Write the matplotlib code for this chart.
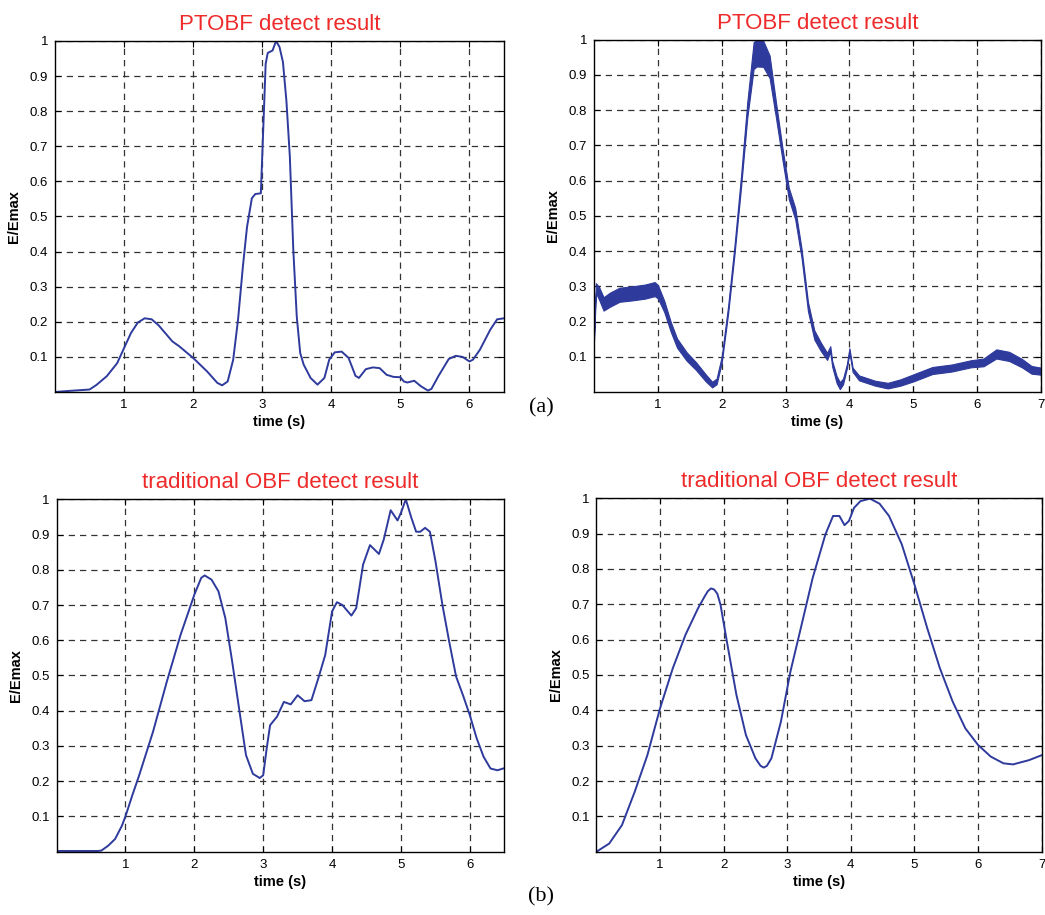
import numpy as np
import matplotlib
matplotlib.use("Agg")
import matplotlib.pyplot as plt

plt.rcParams['font.family'] = ['Liberation Sans', 'DejaVu Sans']

# (a) left: PTOBF detect result
t_a1 = [0.0, 0.2, 0.5, 0.6, 0.75, 0.9, 1.0, 1.1, 1.2, 1.3, 1.4, 1.5, 1.7, 1.8, 2.0,
        2.2, 2.35, 2.42, 2.5, 2.58, 2.65, 2.72, 2.78, 2.85, 2.9, 2.98, 3.0, 3.05,
        3.08, 3.15, 3.2, 3.25, 3.3, 3.35, 3.4, 3.45, 3.5, 3.55, 3.6, 3.7, 3.8, 3.9,
        3.97, 4.05, 4.15, 4.25, 4.35, 4.4, 4.5, 4.6, 4.7, 4.8, 4.9, 5.0, 5.05, 5.1,
        5.2, 5.3, 5.4, 5.45, 5.55, 5.7, 5.8, 5.9, 6.0, 6.05, 6.15, 6.3, 6.4, 6.5]
e_a1 = [0.0, 0.003, 0.007, 0.02, 0.045, 0.082, 0.125, 0.168, 0.198, 0.21, 0.207, 0.19,
        0.144, 0.13, 0.097, 0.059, 0.026, 0.019, 0.03, 0.092, 0.206, 0.357, 0.47,
        0.552, 0.564, 0.566, 0.67, 0.935, 0.966, 0.973, 1.0, 0.983, 0.94, 0.83, 0.67,
        0.405, 0.215, 0.111, 0.078, 0.04, 0.021, 0.04, 0.092, 0.113, 0.115, 0.097,
        0.046, 0.04, 0.065, 0.07, 0.068, 0.049, 0.043, 0.042, 0.03, 0.027, 0.032,
        0.016, 0.004, 0.009, 0.045, 0.094, 0.103, 0.1, 0.087, 0.092, 0.12, 0.177,
        0.207, 0.21]

# (a) right: PTOBF detect result (noisy band: centre and half width)
t_a2 = [0.0, 0.03, 0.08, 0.15, 0.25, 0.4, 0.6, 0.8, 0.95, 1.0, 1.1, 1.2, 1.3, 1.45,
        1.6, 1.75, 1.85, 1.92, 2.0, 2.1, 2.2, 2.3, 2.4, 2.5, 2.55, 2.65, 2.75, 2.85,
        2.95, 3.05, 3.15, 3.25, 3.35, 3.45, 3.55, 3.65, 3.7, 3.73, 3.8, 3.85, 3.9,
        3.96, 4.0, 4.05, 4.15, 4.4, 4.6, 4.8, 5.0, 5.3, 5.6, 5.9, 6.1, 6.3, 6.5,
        6.7, 6.85, 7.0]
e_a2 = [0.15, 0.295, 0.28, 0.25, 0.262, 0.276, 0.28, 0.285, 0.292, 0.285, 0.243,
        0.186, 0.139, 0.101, 0.073, 0.04, 0.021, 0.03, 0.092, 0.233, 0.403, 0.592,
        0.8, 0.955, 0.962, 0.96, 0.923, 0.8, 0.677, 0.564, 0.507, 0.394, 0.243,
        0.162, 0.129, 0.101, 0.122, 0.08, 0.035, 0.018, 0.03, 0.073, 0.118, 0.063,
        0.04, 0.025, 0.018, 0.027, 0.04, 0.061, 0.068, 0.08, 0.084, 0.108, 0.101,
        0.082, 0.063, 0.059]
w_a2 = [0.005, 0.014, 0.018, 0.019, 0.02, 0.02, 0.02, 0.02, 0.02, 0.019, 0.016,
        0.014, 0.013, 0.012, 0.011, 0.01, 0.008, 0.008, 0.009, 0.011, 0.013, 0.016,
        0.022, 0.038, 0.038, 0.037, 0.032, 0.022, 0.017, 0.016, 0.016, 0.013, 0.013,
        0.013, 0.012, 0.01, 0.008, 0.008, 0.01, 0.01, 0.008, 0.006, 0.006, 0.006,
        0.007, 0.007, 0.008, 0.009, 0.01, 0.01, 0.01, 0.01, 0.011, 0.013, 0.013,
        0.012, 0.011, 0.01]

# (b) left: traditional OBF detect result
t_b1 = [0.0, 0.6, 0.65, 0.75, 0.85, 0.95, 1.0, 1.1, 1.2, 1.4, 1.6, 1.8, 2.0, 2.1,
        2.15, 2.25, 2.35, 2.45, 2.55, 2.65, 2.75, 2.85, 2.95, 3.0, 3.05, 3.1, 3.2,
        3.3, 3.4, 3.5, 3.6, 3.7, 3.8, 3.9, 4.0, 4.07, 4.15, 4.28, 4.35, 4.45, 4.55,
        4.68, 4.75, 4.85, 4.95, 5.0, 5.07, 5.15, 5.22, 5.28, 5.35, 5.42, 5.5, 5.6,
        5.7, 5.8, 5.9, 6.0, 6.1, 6.2, 6.3, 6.4, 6.5]
e_b1 = [0.002, 0.002, 0.003, 0.017, 0.036, 0.074, 0.1, 0.16, 0.217, 0.34, 0.482,
        0.615, 0.729, 0.777, 0.784, 0.772, 0.739, 0.663, 0.539, 0.406, 0.274, 0.221,
        0.209, 0.217, 0.292, 0.359, 0.383, 0.425, 0.418, 0.444, 0.427, 0.43, 0.492,
        0.558, 0.682, 0.708, 0.7, 0.67, 0.691, 0.815, 0.87, 0.845, 0.886, 0.969,
        0.94, 0.962, 1.0, 0.948, 0.908, 0.908, 0.919, 0.908, 0.825, 0.702, 0.596,
        0.497, 0.444, 0.387, 0.321, 0.269, 0.236, 0.231, 0.237]

# (b) right: traditional OBF detect result
t_b2 = [0.0, 0.2, 0.4, 0.6, 0.8, 1.0, 1.2, 1.4, 1.6, 1.7, 1.75, 1.8, 1.85, 1.9,
        1.95, 2.05, 2.2, 2.35, 2.5, 2.58, 2.63, 2.68, 2.75, 2.9, 3.05, 3.2, 3.4, 3.6,
        3.72, 3.82, 3.9, 3.97, 4.05, 4.15, 4.3, 4.45, 4.6, 4.8, 5.0, 5.2, 5.4, 5.6,
        5.8, 6.0, 6.2, 6.4, 6.55, 6.8, 7.0]
e_b2 = [0.0, 0.023, 0.075, 0.169, 0.273, 0.406, 0.519, 0.614, 0.69, 0.722, 0.737,
        0.745, 0.742, 0.73, 0.699, 0.595, 0.444, 0.33, 0.264, 0.243, 0.238, 0.243,
        0.264, 0.368, 0.51, 0.623, 0.775, 0.898, 0.95, 0.95, 0.924, 0.936, 0.973,
        0.992, 0.999, 0.985, 0.95, 0.87, 0.756, 0.633, 0.519, 0.425, 0.349, 0.302,
        0.269, 0.25, 0.247, 0.259, 0.273]

line_color = '#2e3a9c'
title_color = '#ee2a2a'
y_ticks = [0.1, 0.2, 0.3, 0.4, 0.5, 0.6, 0.7, 0.8, 0.9, 1.0]
y_labels = ['0.1', '0.2', '0.3', '0.4', '0.5', '0.6', '0.7', '0.8', '0.9', '1']


def style_axes(ax, xmax, xticks, title):
    ax.set_xlim(0, xmax)
    ax.set_ylim(0, 1)
    ax.set_xticks(xticks)
    ax.set_xticklabels([str(v) for v in xticks])
    ax.set_yticks(y_ticks)
    ax.set_yticklabels(y_labels)
    ax.tick_params(direction='in', length=4, width=0.8, labelsize=9.5,
                   colors='black', pad=5, top=True, right=True)
    for sp in ax.spines.values():
        sp.set_linewidth(1.0)
        sp.set_color('black')
    ax.grid(True, color='#333333', linestyle=(0, (5, 4)), linewidth=0.9)
    ax.set_axisbelow(True)
    ax.set_title(title, color=title_color, fontsize=16, pad=8)
    ax.set_xlabel('time (s)', fontsize=10.5, fontweight='bold', labelpad=3)
    ax.set_ylabel('E/Emax', fontsize=10.5, fontweight='bold', labelpad=6)


fig = plt.figure(figsize=(10.45, 9.15), dpi=100)

ax1 = fig.add_axes([0.0526, 0.5716, 0.4297, 0.3836])
ax1.plot(t_a1, e_a1, color=line_color, linewidth=1.4)
style_axes(ax1, 6.5, [1, 2, 3, 4, 5, 6], 'PTOBF detect result')

ax2 = fig.add_axes([0.5684, 0.5716, 0.4278, 0.3850])
lo = np.array(e_a2) - np.array(w_a2)
hi = np.array(e_a2) + np.array(w_a2)
ax2.fill_between(t_a2, lo, hi, color=line_color, linewidth=0.8, edgecolor=line_color)
style_axes(ax2, 7, [1, 2, 3, 4, 5, 6, 7], 'PTOBF detect result')

ax3 = fig.add_axes([0.0541, 0.0692, 0.4285, 0.3851])
ax3.plot(t_b1, e_b1, color=line_color, linewidth=1.4)
style_axes(ax3, 6.5, [1, 2, 3, 4, 5, 6], 'traditional OBF detect result')

ax4 = fig.add_axes([0.5708, 0.0692, 0.4260, 0.3862])
ax4.plot(t_b2, e_b2, color=line_color, linewidth=1.4)
style_axes(ax4, 7, [1, 2, 3, 4, 5, 6, 7], 'traditional OBF detect result')

fig.text(541 / 1045, 1 - 408 / 915, '(a)', family='Liberation Serif', fontsize=16,
         ha='center', va='center')
fig.text(541 / 1045, 1 - 897 / 915, '(b)', family='Liberation Serif', fontsize=16,
         ha='center', va='center')

fig.savefig('out.png', dpi=100)
